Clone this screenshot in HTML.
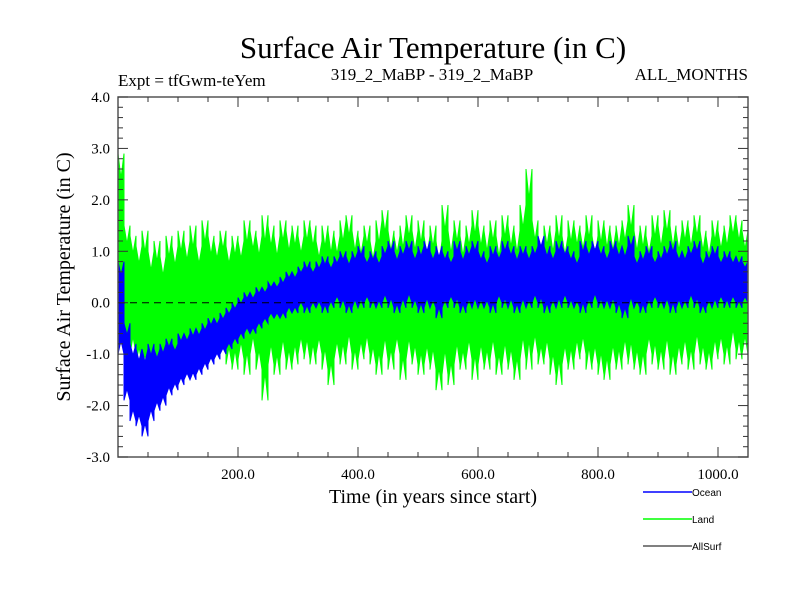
<!DOCTYPE html>
<html><head><meta charset="utf-8"><style>
body{margin:0;background:#fff;width:800px;height:600px;overflow:hidden}
svg{display:block}
.s{font-family:"Liberation Serif",serif;fill:#000}
.a{font-family:"Liberation Sans",sans-serif;font-size:10px;fill:#000}
</style></head><body>
<svg id="c" width="800" height="600">
<text class="s" x="433" y="58" font-size="31" text-anchor="middle">Surface Air Temperature (in C)</text>
<text class="s" x="118" y="86" font-size="17">Expt = tfGwm-teYem</text>
<text class="s" x="432" y="80" font-size="17" text-anchor="middle">319_2_MaBP - 319_2_MaBP</text>
<text class="s" x="748" y="80" font-size="17" text-anchor="end">ALL_MONTHS</text>
<text class="s" x="0" y="0" font-size="20" text-anchor="middle" transform="translate(70,277) rotate(-90)">Surface Air Temperature (in C)</text>
<text class="s" x="433" y="503" font-size="20" text-anchor="middle">Time (in years since start)</text>
<g id="plot"></g>
<g>
<line x1="643" y1="492" x2="692" y2="492" stroke="#0000ff" stroke-width="1.5"/>
<text class="a" x="692" y="496">Ocean</text>
<line x1="643" y1="519" x2="692" y2="519" stroke="#00ff00" stroke-width="1.5"/>
<text class="a" x="692" y="523">Land</text>
<line x1="643" y1="546" x2="692" y2="546" stroke="#000" stroke-width="1"/>
<text class="a" x="692" y="550">AllSurf</text>
</g>
</svg>
<script>
const binYears=10;
const landHi=[2.9,1.5,1.3,1.1,1.4,1.0,1.2,0.9,1.3,1.1,1.4,1.2,1.5,1.1,1.6,1.3,1.2,1.4,1.1,1.3,1.2,1.6,1.4,1.3,1.7,1.5,1.3,1.6,1.4,1.5,1.3,1.6,1.5,1.2,1.5,1.4,1.3,1.6,1.7,1.4,1.3,1.5,1.2,1.6,1.8,1.4,1.3,1.5,1.7,1.4,1.6,1.3,1.5,1.2,1.9,1.4,1.6,1.3,1.5,1.8,1.5,1.4,1.6,1.3,1.7,1.5,1.4,1.9,2.6,1.6,1.3,1.5,1.4,1.7,1.3,1.6,1.5,1.4,1.7,1.3,1.6,1.5,1.4,1.5,1.6,1.9,1.4,1.5,1.3,1.7,1.5,1.8,1.5,1.4,1.6,1.5,1.7,1.4,1.3,1.6,1.4,1.5,1.7,1.6,1.4];
const landLo=[-0.3,-0.9,-1.0,-1.2,-1.4,-1.5,-1.5,-1.6,-1.5,-1.4,-1.4,-1.3,-1.4,-1.2,-1.3,-1.2,-1.1,-1.0,-1.2,-1.3,-1.1,-1.4,-1.0,-1.3,-1.9,-1.2,-1.4,-1.1,-1.3,-1.2,-1.0,-1.1,-1.2,-1.0,-1.3,-1.6,-1.1,-1.2,-1.0,-1.3,-1.1,-1.0,-1.2,-1.4,-1.1,-1.3,-1.0,-1.5,-1.1,-1.2,-1.4,-1.2,-1.3,-1.7,-1.4,-1.6,-1.2,-1.3,-1.1,-1.5,-1.2,-1.3,-1.1,-1.4,-1.2,-1.3,-1.5,-1.1,-1.3,-1.0,-1.2,-1.1,-1.4,-1.6,-1.2,-1.3,-1.1,-1.0,-1.3,-1.2,-1.4,-1.5,-1.2,-1.3,-1.1,-1.2,-1.3,-1.4,-1.0,-1.2,-1.3,-1.1,-1.4,-1.2,-1.1,-1.3,-1.0,-1.2,-1.3,-1.1,-1.0,-1.2,-0.9,-1.1,-1.0];
const oceanHi=[0.8,-0.4,-0.8,-0.9,-0.9,-0.8,-0.9,-0.8,-0.7,-0.8,-0.6,-0.6,-0.5,-0.5,-0.4,-0.3,-0.3,-0.2,-0.1,0.0,0.1,0.2,0.2,0.3,0.3,0.4,0.4,0.5,0.6,0.6,0.7,0.8,0.7,0.8,0.9,0.8,0.9,1.0,0.9,1.0,1.1,0.9,1.0,0.9,1.1,1.2,1.0,1.1,1.2,1.0,1.1,1.2,1.0,1.1,1.0,0.9,1.2,1.0,1.1,1.2,1.0,0.9,1.1,1.0,1.2,1.1,1.0,1.1,1.0,1.1,1.3,1.1,1.0,1.2,1.1,1.0,0.9,1.2,1.1,1.2,1.1,1.0,1.2,1.1,1.1,1.3,0.9,1.0,1.1,0.9,1.0,1.1,1.2,1.0,1.0,1.1,1.2,0.9,1.0,1.1,0.9,1.0,0.9,0.9,0.8];
const oceanLo=[-1.0,-1.9,-2.3,-2.4,-2.6,-2.3,-2.1,-2.0,-1.8,-1.7,-1.6,-1.5,-1.5,-1.4,-1.3,-1.2,-1.1,-1.0,-0.9,-0.8,-0.7,-0.6,-0.6,-0.5,-0.4,-0.3,-0.3,-0.3,-0.2,-0.2,-0.1,-0.2,-0.1,-0.1,-0.2,-0.1,0.0,-0.1,-0.2,-0.1,-0.1,0.0,-0.1,-0.1,0.0,-0.1,-0.2,-0.1,0.0,-0.1,-0.2,-0.1,-0.1,-0.3,-0.1,0.0,-0.1,-0.2,-0.1,-0.1,-0.1,-0.1,-0.2,0.0,-0.1,-0.1,-0.2,-0.1,-0.1,0.0,-0.1,-0.2,-0.1,-0.1,0.0,-0.1,-0.1,-0.2,-0.1,0.0,-0.1,-0.1,-0.1,-0.2,-0.3,-0.1,-0.1,-0.2,-0.1,0.0,-0.1,-0.1,-0.2,-0.1,-0.1,0.0,-0.1,-0.2,-0.1,-0.1,0.0,-0.1,0.0,-0.1,0.0];
const yTicks=[4.0,3.0,2.0,1.0,0.0,-1.0,-2.0,-3.0];
const yTickLabels=["4.0","3.0","2.0","1.0","0.0","-1.0","-2.0","-3.0"];
const xTicks=[200,400,600,800,1000];
const xTickLabels=["200.0","400.0","600.0","800.0","1000.0"];

const NS="http://www.w3.org/2000/svg";
const L=118,R=748,T=97,B=457,X0=0,X1=1050,Y0=-3,Y1=4;
const xs=v=>L+(v-X0)/(X1-X0)*(R-L);
const ys=v=>B-(v-Y0)/(Y1-Y0)*(B-T);
const g=document.getElementById('plot');
function mk(t,a){const e=document.createElementNS(NS,t);for(const k in a)e.setAttribute(k,a[k]);g.appendChild(e);return e;}

function band(hi,lo,color,name){
  let top=[],bot=[];
  for(let i=0;i<hi.length;i++){
    const xa=xs(i*binYears),xb=xs(Math.min((i+1)*binYears,X1));
    top.push(xa+','+ys(hi[i]),(xa+xb)/2+','+ys(hi[i]-(hi[i]-lo[i])*0.15),xb+','+ys(hi[i]));
    bot.push(xa+','+ys(lo[i]),(xa+xb)/2+','+ys(lo[i]+(hi[i]-lo[i])*0.15),xb+','+ys(lo[i]));
  }
  const p=mk('polygon',{points:top.concat(bot.reverse()).join(' '),fill:color,stroke:color,'stroke-width':1});
  
  
}
band(landHi,landLo,'#00ff00','land-series');
band(oceanHi,oceanLo,'#0000ff','ocean-series');

const z=mk('line',{x1:L,x2:R,y1:ys(0),y2:ys(0),stroke:'#000','stroke-dasharray':'7,5','stroke-width':1});



const fr=mk('rect',{x:L,y:T,width:R-L,height:B-T,fill:'none',stroke:'#555','stroke-width':1.5});



for(let v=-3;v<=4.001;v+=0.2){
  const major=Math.abs(v-Math.round(v))<1e-6, len=major?10:5, y=ys(v);
  mk('line',{x1:L,x2:L+len,y1:y,y2:y,stroke:'#333'});
  mk('line',{x1:R-len,x2:R,y1:y,y2:y,stroke:'#333'});
}
for(let v=50;v<X1;v+=50){
  const major=v%200===0, len=major?10:5, x=xs(v);
  mk('line',{x1:x,x2:x,y1:B-len,y2:B,stroke:'#333'});
  mk('line',{x1:x,x2:x,y1:T,y2:T+len,stroke:'#333'});
}
yTicks.forEach((v,i)=>{
  const t=mk('text',{x:L-8,y:ys(v)+5,'text-anchor':'end','font-size':15,class:'s'});
  t.textContent=yTickLabels[i];
  
  
});
xTicks.forEach((v,i)=>{
  const t=mk('text',{x:xs(v),y:B+22,'text-anchor':'middle','font-size':15,class:'s'});
  t.textContent=xTickLabels[i];
  
  
});
</script>
</body></html>
